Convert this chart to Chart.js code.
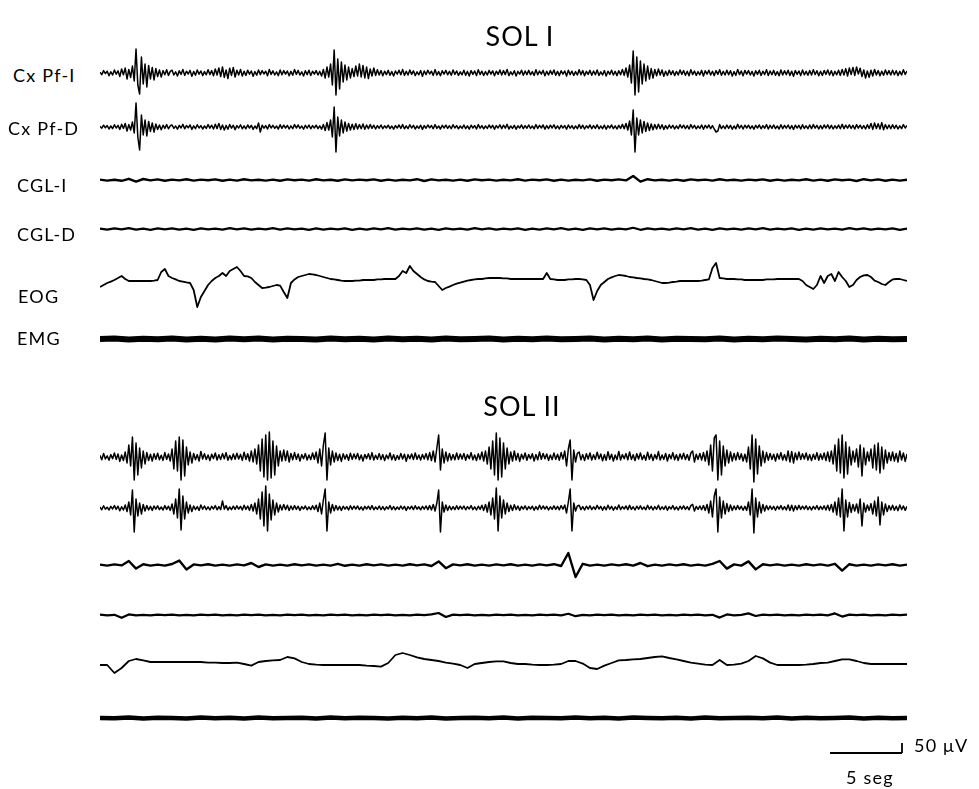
<!DOCTYPE html>
<html>
<head>
<meta charset="utf-8">
<script src="https://cdn.jsdelivr.net/npm/chart.js@4/dist/chart.umd.min.js"></script>
<style>
  body { margin: 0; background: #fff; width: 979px; height: 789px; position: relative; overflow: hidden;
         font-family: Lato, "Open Sans", sans-serif; color: #000; }
  .lbl { position: absolute; font-size: 18px; letter-spacing: 1.2px; line-height: 1; transform: translateY(-50%); white-space: nowrap; }
  .ttl { position: absolute; font-size: 27px; letter-spacing: 1px; line-height: 1; transform: translate(-50%, -50%); white-space: nowrap; }
  canvas { position: absolute; }
</style>
</head>
<body>
<script>
// 56 s per row, values in microvolts
const DURATION = 56;
const UV_PER_PX = 5;

const channelNames = ['Cx Pf-I', 'Cx Pf-D', 'CGL-I', 'CGL-D', 'EOG', 'EMG'];
const titles = ['SOL I', 'SOL II'];

// ---- SOL I  (cortex 0.125 s samples, EOG 0.25 s, CGL 0.5 s, EMG 1 s)
const cxPfI_1 = [
  4,-8,12,-3,9,-14,6,-10,15,-6,11,-18,20,-9,25,-30,18,-22,35,-40,
  120,-60,-105,80,-55,45,-70,38,-30,28,-35,22,-18,15,-20,12,-9,16,-12,8,
  14,-10,6,-15,11,-7,18,-12,9,-5,13,-16,8,-11,15,-6,10,-13,7,-9,
  16,-8,12,-14,20,-10,25,-18,30,-22,15,-28,24,-12,28,-20,14,-10,18,-15,
  9,-12,14,-6,10,-16,7,-11,15,-8,12,-5,9,-14,18,-7,11,-10,6,-13,
  15,-9,12,-6,10,-14,8,-11,17,-7,13,-10,6,-15,11,-8,14,-12,9,-6,
  12,-10,8,-15,18,-25,30,-20,45,-60,115,-110,70,-80,55,-45,40,-35,30,-25,
  22,-18,35,-15,45,-20,38,-25,30,-28,20,-15,25,-12,16,-10,12,-14,9,-8,
  13,-11,7,-15,10,-6,14,-9,18,-12,8,-10,15,-7,11,-13,6,-9,12,-16,
  10,-8,14,-5,9,-12,17,-10,7,-14,11,-6,13,-9,8,-11,15,-7,10,-12,
  6,-9,14,-11,8,-15,12,-7,10,-13,16,-8,9,-12,7,-10,13,-6,11,-14,
  9,-7,15,-10,12,-8,18,-13,6,-9,11,-15,8,-6,14,-11,10,-8,13,-9,
  7,-12,16,-9,10,-6,13,-14,9,-10,12,-7,15,-11,8,-13,11,-6,10,-15,
  14,-8,9,-12,7,-10,16,-9,12,-14,8,-7,13,-11,10,-9,15,-12,6,-10,
  12,-15,9,-7,14,-10,8,-13,11,-9,18,-12,25,-20,40,-50,110,-110,80,-95,
  60,-55,45,-40,35,-30,22,-25,18,-14,20,-10,15,-16,9,-12,14,-8,11,-13,
  8,-10,15,-7,12,-11,9,-14,16,-8,10,-12,7,-9,13,-15,11,-6,14,-10,
  9,-13,12,-7,16,-11,8,-10,14,-9,11,-15,7,-12,18,-8,10,-14,13,-6,
  12,-10,8,-15,11,-7,14,-12,9,-8,16,-13,10,-9,13,-11,7,-14,15,-10,
  11,-8,14,-12,9,-16,12,-7,10,-13,15,-9,8,-11,13,-10,16,-8,11,-14,
  9,-12,13,-7,15,-10,11,-14,8,-9,14,-12,18,-10,22,-15,25,-8,28,-12,
  30,-5,24,-18,15,-25,10,-22,14,-15,18,-10,12,-14,9,-11,15,-8,12,-10,
  14,-9,11,-13,8,-10,16,-7,10
];
const cxPfD_1 = [
  3,-6,9,-4,7,-10,5,-8,11,-5,8,-12,14,-7,18,-20,12,-15,25,-30,
  120,-50,-115,60,-40,35,-45,28,-22,20,-25,15,-12,10,-14,9,-7,12,-9,6,
  10,-7,5,-11,8,-5,13,-9,7,-4,10,-12,6,-8,11,-5,7,-10,5,-7,
  12,-6,9,-10,14,-8,18,-12,10,-15,8,-11,12,-6,9,-13,7,-5,11,-9,
  6,-9,10,-5,8,-12,5,-8,20,-25,9,-6,7,-10,12,-5,8,-7,5,-10,
  11,-7,9,-5,8,-10,6,-8,12,-5,10,-7,5,-11,8,-6,10,-9,7,-5,
  9,-8,6,-11,13,-18,22,-15,35,-50,100,-125,50,-45,35,-30,25,-20,18,-15,
  14,-12,16,-10,12,-9,15,-11,10,-8,12,-7,9,-10,7,-6,10,-8,6,-5,
  9,-8,5,-11,7,-5,10,-7,12,-9,6,-8,11,-5,8,-10,5,-7,9,-12,
  7,-6,10,-4,7,-9,12,-7,5,-10,8,-5,9,-7,6,-8,11,-5,7,-9,
  5,-7,10,-8,6,-11,9,-5,7,-10,12,-6,7,-9,5,-7,10,-5,8,-11,
  7,-5,11,-8,9,-6,13,-10,5,-7,8,-11,6,-5,10,-8,7,-6,10,-7,
  5,-9,12,-7,8,-5,10,-11,7,-8,9,-5,11,-8,6,-10,8,-5,7,-11,
  10,-6,7,-9,5,-8,12,-7,9,-10,6,-5,10,-8,7,-7,11,-9,5,-8,
  9,-11,7,-5,10,-8,6,-10,8,-7,13,-9,18,-15,30,-40,85,-125,45,-40,
  35,-30,28,-22,20,-18,15,-14,12,-10,14,-8,11,-12,7,-9,10,-6,8,-10,
  6,-8,11,-5,9,-8,7,-10,12,-6,8,-9,5,-7,10,-11,8,-5,10,-8,
  7,-10,-25,-20,12,-8,6,-8,10,-7,8,-11,5,-9,13,-6,8,-10,9,-5,
  9,-8,6,-11,8,-5,10,-9,7,-6,12,-10,8,-7,10,-8,5,-10,11,-8,
  8,-6,10,-9,7,-12,9,-5,8,-10,11,-7,6,-8,10,-8,12,-6,8,-10,
  7,-9,10,-5,11,-8,8,-10,6,-7,10,-9,13,-8,9,-6,11,-7,8,-10,
  12,-6,9,-8,7,-10,11,-7,18,-12,20,-8,16,-10,22,-14,12,-9,10,-8,
  11,-7,9,-10,6,-8,12,-5,8
];
const cglI_1 = [
  2,-3,1,-4,6,-8,5,-2,3,-4,2,-2,4,-3,2,-1,3,-4,2,-3,
  4,-2,1,-3,2,-4,3,-1,2,-3,4,-2,1,-4,3,-2,2,-1,3,-4,
  2,-3,1,-2,4,-5,3,-2,1,-3,2,-4,3,-1,2,-3,1,-2,4,-3,
  2,-1,3,-4,2,-3,1,-2,3,-4,2,-1,3,-2,20,-8,4,-2,1,-3,
  2,-4,3,-1,2,-3,4,-2,1,-3,2,-1,3,-4,2,-3,1,-2,4,-3,
  2,-4,3,-1,2,-5,4,-2,3,-4,2,-3,1
];
const cglD_1 = [
  2,-3,3,-2,4,-3,2,-4,3,-2,3,-3,2,-4,3,-2,2,-3,4,-2,
  3,-3,2,-2,4,-3,3,-2,2,-4,3,-3,2,-2,3,-4,2,-3,3,-2,
  4,-3,2,-2,3,-3,2,-4,3,-2,2,-3,4,-2,3,-3,2,-2,3,-4,
  2,-3,3,-2,4,-3,2,-4,3,-2,3,-3,2,-2,6,-4,3,-2,2,-3,
  3,-2,4,-3,2,-4,3,-2,2,-3,3,-2,4,-3,2,-2,3,-4,2,-3,
  3,-2,2,-3,4,-2,3,-3,2,-2,3,-4,2
];
const eog_1 = [
  -35,-25,-15,-8,0,10,20,5,-5,-5,-5,-5,-5,-5,-5,-3,0,40,55,20,
  10,3,-5,-8,-12,-15,-50,-135,-85,-55,-25,-5,10,20,35,20,45,55,65,45,
  20,18,10,-10,-25,-40,-38,-35,-30,-25,-28,-60,-90,-15,3,15,20,25,30,28,
  25,20,15,10,5,3,0,-3,-5,-5,-5,-3,-3,0,0,0,0,3,3,5,
  5,5,5,20,45,35,70,45,30,15,3,-5,-8,-10,-30,-50,-40,-33,-25,-18,
  -13,-8,-3,0,3,5,5,8,10,10,10,10,8,8,5,5,5,5,5,5,
  5,5,5,5,35,5,3,0,0,0,3,3,5,5,3,0,-25,-100,-55,-25,
  -10,5,13,20,25,23,20,15,13,10,8,5,3,0,-5,-10,-15,-15,-13,-10,
  -8,-5,-5,-5,-5,-5,-5,-3,0,3,60,85,10,8,5,5,5,3,3,0,
  0,0,0,0,0,3,3,3,5,5,5,5,5,5,5,-5,-25,-35,-45,-25,
  20,-15,20,30,-5,40,15,-5,-35,-25,0,15,23,25,15,-3,-10,-20,-25,-10,
  3,5,5,0,-5
];
const emg_1 = [
  0,2,-2,1,-1,3,-2,1,-3,2,-1,2,-2,1,0,-2,2,-1,1,-2,
  2,-1,1,-3,2,-1,0,2,-2,1,-1,2,-1,0,2,-2,1,-1,2,-2,
  1,0,-1,2,-2,1,-1,2,0,-2,1,-1,2,-2,1,-1,0
];

// ---- SOL II
const cxPfI_2 = [
  8,-14,18,-10,6,-16,12,-9,20,-12,15,-22,10,-18,25,-30,60,-45,100,-115,
  70,-90,45,-55,30,-35,22,-18,14,-20,16,-11,19,-14,9,-17,22,-12,15,-20,
  40,-60,80,-70,100,-115,85,-95,50,-40,25,-30,18,-14,12,-20,28,-10,16,-13,
  10,-18,14,-8,20,-15,11,-12,17,-9,22,-16,8,-14,15,-11,19,-10,13,-17,
  24,-12,16,-20,30,-25,40,-35,60,-70,90,-100,110,-115,125,-105,80,-90,55,-45,
  30,-20,35,-18,30,-25,18,-14,22,-12,15,-20,12,-9,17,-15,10,-13,20,-11,
  25,-30,40,-45,60,120,-115,45,-40,30,-25,20,-18,14,-22,16,-10,12,-17,19,
  -12,15,-9,18,-14,10,-20,13,-8,16,-12,22,-15,9,-11,17,-13,12,-18,10,
  -9,20,-14,11,-16,8,-12,18,-10,14,-21,12,-9,15,-13,20,-11,10,-15,13,
  -10,17,-14,22,-18,30,-25,45,110,-65,40,-30,25,-20,18,-15,12,-14,20,-12,
  15,-10,18,-16,12,-9,22,-14,10,-18,16,-12,25,-20,30,-35,50,-60,80,-90,
  120,-115,95,-100,70,-60,45,-35,25,-20,30,-15,18,-22,14,-10,20,-16,12,-9,
  16,-20,12,-14,25,-11,18,-9,15,-17,10,-13,20,-12,14,-16,22,-10,30,-45,
  40,85,-115,35,-25,18,25,-14,12,-18,16,-10,20,-15,11,-12,24,-9,15,-19,
  12,-16,26,-11,14,-20,10,-13,28,-15,12,-9,17,-14,25,-12,11,-18,16,-10,
  20,-13,9,-16,24,-11,14,-18,12,-10,27,-15,10,-12,18,-20,13,-9,22,-14,
  11,-17,15,-10,19,-13,12,-16,20,30,-25,14,-12,18,-15,22,-20,30,-40,60,
  -70,95,110,-115,80,-90,55,-45,35,-30,25,-20,18,-15,22,-12,16,-20,14,-25,
  50,-60,110,-125,90,-85,55,-45,30,-28,22,-16,18,-12,14,-20,16,-10,22,-15,
  12,-18,30,-25,28,-30,20,-14,25,-12,16,-10,20,-15,12,-18,14,-11,22,-16,
  15,-12,20,-18,25,-22,30,-35,60,-70,90,-80,110,-105,75,-85,50,-40,30,-25,
  40,-50,60,-95,45,-40,25,-20,40,-55,60,-65,70,-80,50,-60,35,-30,22,-18,
  25,-20,18,-25,30,-15,20,-22,15
];
const cxPfD_2 = [
  5,-9,11,-6,4,-10,8,-5,12,-7,9,-14,6,-10,15,-18,30,-35,90,-120,
  45,-40,25,-30,18,-15,12,-10,8,-12,10,-6,11,-8,5,-10,12,-7,9,-12,
  20,-30,45,-50,95,-110,60,-55,30,-25,15,-18,10,-8,7,-12,15,-6,10,-8,
  6,-10,8,-5,12,-9,7,-8,35,-6,12,-10,5,-8,9,-7,11,-6,8,-10,
  14,-7,10,-12,18,-15,25,-30,45,-55,80,-90,110,-115,70,-60,40,-35,25,-20,
  15,-10,18,-8,14,-12,10,-8,12,-7,9,-12,7,-5,10,-9,6,-8,11,-7,
  14,-18,25,-30,40,95,-115,30,-25,18,-14,12,-10,8,-12,9,-6,7,-10,11,
  -7,9,-5,10,-8,6,-11,8,-5,9,-7,12,-9,5,-7,10,-8,7,-10,6,
  -5,12,-8,7,-9,5,-7,10,-6,8,-12,7,-5,9,-8,11,-6,6,-9,8,
  -6,10,-8,12,-10,18,-15,25,90,-120,30,-20,15,-12,10,-9,7,-8,11,-7,
  9,-6,10,-9,7,-5,12,-8,6,-10,9,-7,14,-12,18,-20,30,-35,50,-55,
  100,-115,60,-50,40,-30,25,-18,14,-12,16,-8,10,-12,8,-6,11,-9,7,-5,
  9,-11,7,-8,14,-6,10,-5,8,-10,6,-7,11,-7,8,-9,12,-6,15,-25,
  30,95,-115,25,-15,10,14,-8,7,-10,9,-6,11,-8,6,-7,13,-5,8,-11,
  7,-9,14,-6,8,-11,6,-7,15,-8,7,-5,10,-8,13,-7,6,-10,9,-6,
  11,-7,5,-9,13,-6,8,-10,7,-6,14,-8,6,-7,10,-11,7,-5,12,-8,
  6,-10,9,-6,11,-7,7,-9,12,18,-15,8,-7,10,-9,12,-12,18,-25,35,
  -45,60,95,-120,55,-50,35,-30,22,-18,15,-12,10,-8,12,-7,9,-11,8,-12,
  30,-35,95,-125,50,-45,30,-25,18,-15,12,-9,10,-7,8,-11,9,-6,12,-8,
  7,-10,15,-12,14,-15,11,-8,13,-7,9,-6,11,-8,7,-10,8,-6,12,-9,
  8,-7,11,-10,14,-12,18,-20,30,-35,50,-45,95,-115,40,-45,28,-22,18,-15,
  20,-25,45,-90,25,-20,15,-12,22,-30,35,-40,55,-85,30,-35,20,-18,12,-10,
  14,-11,9,-13,15,-8,10,-12,8
];
const cglI_2 = [
  2,-3,3,-2,20,-18,4,-3,2,-3,5,22,-22,3,-2,4,-3,2,-3,3,
  -2,10,-10,3,-3,2,-3,4,-2,3,-3,2,-3,6,-4,2,-3,4,-2,3,
  -3,2,-3,4,-2,3,-5,18,-16,3,-2,4,-3,2,-3,3,-2,4,-3,2,
  -3,3,-2,4,-5,60,-60,6,-3,2,-3,3,-2,4,-3,10,-6,2,-3,3,
  -2,4,-3,2,-3,6,20,-18,3,-3,18,-22,4,-2,3,-3,2,-3,4,-2,
  3,-3,6,-28,4,-3,2,-3,3,-2,4,-3,2
];
const cglD_2 = [
  2,-2,1,-14,3,-2,1,-2,2,-1,2,-2,1,-2,2,-1,2,-2,1,-2,
  2,-1,2,-2,1,-2,2,-1,2,-2,1,-2,2,-1,2,-2,1,-2,2,-1,
  2,-2,1,-2,2,-1,3,10,-10,2,-1,2,-2,1,-2,2,-1,2,-2,1,
  -2,2,-1,2,-2,6,-6,1,-2,2,-1,2,-2,1,-2,2,-1,2,-2,1,
  -2,2,-1,2,-2,1,-13,3,-2,1,8,-5,2,-1,2,-2,1,-2,2,-1,
  2,-2,8,-8,2,-1,2,-2,1,-2,2,-1,2
];
const eog_2 = [
  -15,-15,-55,-30,5,15,8,0,0,0,0,0,0,0,0,-3,-3,-5,-5,-3,
  -10,-18,0,5,8,10,25,18,0,-10,-13,-15,-15,-15,-15,-15,-15,-18,-20,-23,
  -5,35,45,35,23,15,10,5,-3,-8,-15,-30,-10,-5,0,3,3,-5,-10,-10,
  -13,-15,-15,-13,-10,5,5,-8,-30,-35,-18,-5,8,10,13,15,20,25,28,20,
  13,5,-3,-8,-13,-15,10,-15,-13,-8,5,30,18,-3,-15,-15,-15,-15,-13,-10,
  -5,-3,5,13,13,5,-5,-10,-10,-10,-10,-10,-10
];
const emg_2 = [
  0,-1,2,-2,1,0,-2,2,-1,1,-2,2,-1,0,1,-2,2,-1,1,0,
  -2,1,-1,2,-2,0,1,-1,2,-2,1,0,-1,2,-1,1,-2,2,0,-1,
  1,-2,2,-1,0,1,-1,2,-2,1,-1,0,2,-3,1,-1,0
];

// scale bar: 5 s across, 50 uV up at the right end
const barTimeT = [0, 5];
const barTimeV = [0, 0];
const barVoltT = [5, 5];
const barVoltV = [0, 50];

// layout (pixels)
const TRACE_X = 100, TRACE_W = 807, TRACE_H = 80;
const rows = [
  { data: cxPfI_1, y: 73,  w: 1.5, label: 0, ly: 75 },
  { data: cxPfD_1, y: 127, w: 1.5, label: 1, ly: 128 },
  { data: cglI_1,  y: 180, w: 2.4, label: 2, ly: 185 },
  { data: cglD_1,  y: 229, w: 2.2, label: 3, ly: 234 },
  { data: eog_1,   y: 280, w: 1.8, label: 4, ly: 296 },
  { data: emg_1,   y: 339, w: 6,   label: 5, ly: 338 },
  { data: cxPfI_2, y: 457, w: 1.5 },
  { data: cxPfD_2, y: 508, w: 1.5 },
  { data: cglI_2,  y: 565, w: 2.4 },
  { data: cglD_2,  y: 615, w: 2.2 },
  { data: eog_2,   y: 662, w: 1.8 },
  { data: emg_2,   y: 718, w: 4.5 }
];
const labelX = [13, 8, 17, 17, 18, 17];

function lineChart(canvas, series, width, xMin, xMax, yHalf, pad) {
  return new Chart(canvas, {
    type: 'line',
    data: { datasets: series.map(pts => ({ data: pts, borderColor: '#000', borderWidth: width, pointRadius: 0,
                         tension: 0, borderJoinStyle: 'round', borderCapStyle: 'butt', clip: false })) },
    options: {
      responsive: false, animation: false, events: [],
      layout: { padding: pad },
      plugins: { legend: { display: false }, tooltip: { enabled: false } },
      scales: {
        x: { type: 'linear', display: false, min: xMin, max: xMax },
        y: { type: 'linear', display: false, min: -yHalf, max: yHalf }
      }
    }
  });
}

function addCanvas(left, top, w, h) {
  const c = document.createElement('canvas');
  c.width = w; c.height = h;
  c.style.left = left + 'px';
  c.style.top = top + 'px';
  document.body.appendChild(c);
  return c;
}

function addText(cls, text, x, y) {
  const d = document.createElement('div');
  d.className = cls;
  d.textContent = text;
  d.style.left = x + 'px';
  d.style.top = y + 'px';
  document.body.appendChild(d);
}

rows.forEach(r => {
  const dt = DURATION / (r.data.length - 1);
  const pts = r.data.map((v, i) => ({ x: i * dt, y: v }));
  const c = addCanvas(TRACE_X, r.y - TRACE_H / 2, TRACE_W, TRACE_H);
  lineChart(c, [pts], r.w, 0, DURATION, TRACE_H / 2 * UV_PER_PX, 0);
  if (r.label !== undefined) addText('lbl', channelNames[r.label], labelX[r.label], r.ly);
});

addText('ttl', titles[0], 520, 35);
addText('ttl', titles[1], 522, 405);

// scale bar drawn through the same px-per-second / px-per-uV mapping
const pxPerSec = TRACE_W / DURATION;
const barW = Math.round(5 * pxPerSec);
const barCanvas = addCanvas(830 - 5, 753 - 25, barW + 10, 50);
const toPts = (ts, vs) => ts.map((t, i) => ({ x: t, y: vs[i] }));
lineChart(barCanvas, [toPts(barTimeT, barTimeV), toPts(barVoltT, barVoltV)], 1.8, 0, 5, 20 * UV_PER_PX,
  { left: 5, right: 5, top: 5, bottom: 5 });
addText('lbl', '50 \u03bcV', 914, 745);
addText('lbl', '5 seg', 846, 777);
</script>
</body>
</html>
